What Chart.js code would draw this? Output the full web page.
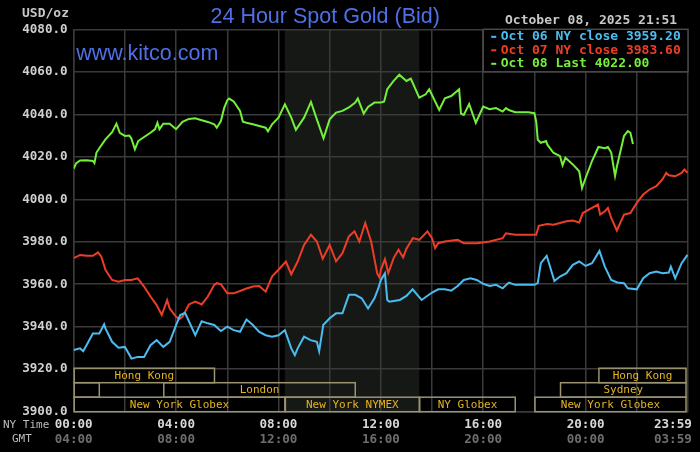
<!DOCTYPE html>
<html><head><meta charset="utf-8">
<script src="https://cdn.jsdelivr.net/npm/chart.js@4.4.0/dist/chart.umd.min.js"></script>
<style>html,body{margin:0;padding:0;background:#000;overflow:hidden}canvas{display:block}</style>
</head><body>
<canvas id="c" width="700" height="452"></canvas>
<script>
// ---------- data ----------
const titleText = '24 Hour Spot Gold (Bid)';
const unitText = 'USD/oz';
const dateText = 'October 08, 2025 21:51';
const siteText = 'www.kitco.com';
const yMin = 3900, yMax = 4080, yStep = 20;
const hourGrid = [0,2,4,6,8,10,12,14,16,18,20,22,24];
const labeledHours = [0,4,8,12,16,20,24];
const nyLabels = ['00:00','04:00','08:00','12:00','16:00','20:00','23:59'];
const gmtLabels = ['04:00','08:00','12:00','16:00','20:00','00:00','03:59'];
const rowTitles = ['NY Time','GMT'];
const nyShade = [8.25, 13.5];
const legendLabels = ['Oct 06 NY close 3959.20','Oct 07 NY close 3983.60','Oct 08 Last 4022.00'];

// sessions: [name, startHour, endHour, row]
const sessions = [
  ['Hong Kong',0,5.5,0], ['Hong Kong',20.5,24,0],
  ['',0,1,1], ['London',3.5,11,1], ['Sydney',19,24,1],
  ['New York Globex',0,8.25,2], ['New York NYMEX',8.25,13.5,2],
  ['NY Globex',13.5,17.25,2], ['New York Globex',18,24,2]
];

// [hour, price]
const oct06 = [[0,3929],[0.25,3929.8],[0.37,3928.5],[0.5,3931.3],[0.75,3936.8],[1.0,3936.8],[1.19,3941.1],[1.24,3939.2],[1.5,3932.9],[1.75,3930.1],[2.0,3930.5],[2.26,3925],[2.5,3925.8],[2.75,3925.8],[3.0,3931.3],[3.24,3933.7],[3.5,3930.5],[3.75,3932.9],[4.0,3940.8],[4.16,3945.5],[4.35,3946.5],[4.75,3936],[5.0,3942.6],[5.24,3941.6],[5.49,3940.8],[5.75,3938],[6.0,3940],[6.25,3938.4],[6.5,3937.6],[6.75,3943.4],[7.0,3940.8],[7.25,3937.6],[7.5,3936],[7.75,3935.3],[8.0,3936],[8.25,3938.4],[8.5,3929.8],[8.64,3926.6],[8.75,3929.8],[9.0,3935.3],[9.25,3933.7],[9.5,3932.9],[9.59,3928.5],[9.75,3940.8],[10.0,3944],[10.25,3946.3],[10.5,3946.3],[10.75,3955],[11.0,3955],[11.25,3953.4],[11.5,3948.6],[11.75,3953.4],[11.9,3958],[12.0,3962],[12.16,3965.1],[12.25,3952.6],[12.33,3951.8],[12.74,3952.6],[13.0,3954.5],[13.24,3957.6],[13.5,3953.9],[13.59,3952.6],[14.0,3956.1],[14.24,3957.6],[14.5,3957.6],[14.75,3957],[15.0,3959.2],[15.24,3962],[15.5,3962.8],[15.75,3962],[16.0,3960.2],[16.25,3959.2],[16.5,3959.7],[16.76,3958.1],[17.0,3960.8],[17.25,3959.7],[18.0,3959.7],[18.13,3960.5],[18.25,3969.9],[18.48,3973.4],[18.78,3961.5],[19.0,3963.6],[19.25,3965.2],[19.5,3969.1],[19.75,3970.7],[20.0,3968.6],[20.25,3969.9],[20.54,3975.7],[20.75,3968.3],[21.0,3962],[21.24,3960.8],[21.5,3960.5],[21.65,3958.1],[22.0,3957.6],[22.25,3962.8],[22.5,3965.2],[22.76,3966],[23.0,3965.2],[23.25,3965.5],[23.33,3968.3],[23.5,3962.8],[23.75,3969.9],[23.98,3973.8]];

const oct07 = [[0,3972.3],[0.25,3973.8],[0.5,3973.4],[0.75,3973.4],[0.95,3975],[1.08,3973],[1.24,3966.8],[1.5,3962],[1.75,3961.2],[2.0,3962],[2.25,3962],[2.5,3962.8],[2.75,3958.9],[3.0,3954.2],[3.24,3950.2],[3.44,3945.5],[3.65,3952.5],[3.75,3948.6],[4.0,3944.7],[4.13,3943.6],[4.25,3944.7],[4.5,3950.5],[4.75,3951.8],[5.0,3950.5],[5.24,3954.2],[5.49,3959.7],[5.59,3960.5],[5.75,3960],[6.0,3955.7],[6.25,3955.7],[6.5,3956.8],[6.75,3958],[7.0,3958.9],[7.25,3959.2],[7.5,3956.5],[7.75,3963.6],[8.0,3966.8],[8.29,3970.7],[8.5,3964.7],[8.75,3970.7],[9.0,3978.5],[9.27,3983.3],[9.5,3980.1],[9.73,3972],[10.0,3978.5],[10.25,3970.8],[10.5,3974.6],[10.75,3982.5],[10.97,3984.9],[11.16,3980.1],[11.39,3988.8],[11.62,3980.1],[11.86,3965],[11.95,3963.1],[12.0,3966.8],[12.16,3971.8],[12.29,3965.3],[12.5,3972.3],[12.69,3976.2],[12.87,3972.6],[13.0,3976.7],[13.25,3981.7],[13.5,3980.9],[13.82,3984.9],[14.0,3981.7],[14.12,3977],[14.24,3979.3],[14.5,3980.1],[15.0,3980.9],[15.24,3979.3],[15.75,3979.3],[16.25,3980.1],[16.76,3981.7],[16.89,3984],[17.25,3983.3],[18.0,3983.3],[18.07,3983.3],[18.17,3987.5],[18.5,3988.3],[18.74,3988],[19.0,3988.8],[19.25,3989.6],[19.5,3990],[19.75,3989.1],[19.89,3993.5],[20.25,3995.9],[20.48,3997.5],[20.57,3992.8],[20.75,3994.3],[20.87,3995.9],[21.0,3991.2],[21.22,3985.3],[21.5,3992.8],[21.75,3993.5],[22.0,3998.3],[22.25,4002.2],[22.5,4004.6],[22.76,4006.2],[23.0,4009.3],[23.15,4012.4],[23.25,4011.3],[23.5,4010.8],[23.75,4012.4],[23.86,4014],[23.98,4012.4]];

const oct08 = [[0,4014.5],[0.1,4017],[0.25,4018.3],[0.5,4018.4],[0.75,4018],[0.81,4017],[0.89,4022],[1.0,4024],[1.24,4028.2],[1.5,4031.6],[1.67,4035.6],[1.8,4031.3],[2.0,4029.8],[2.17,4030],[2.25,4028.7],[2.39,4023.5],[2.52,4027.4],[2.75,4029.3],[3.0,4031.3],[3.18,4033],[3.27,4036],[3.35,4033],[3.5,4035.6],[3.75,4035.6],[4.0,4033],[4.25,4036.4],[4.5,4037.8],[4.75,4038.1],[5.0,4037.2],[5.24,4036.4],[5.49,4035.3],[5.59,4033.7],[5.75,4036.8],[5.88,4043],[6.0,4046.6],[6.07,4047.4],[6.25,4046],[6.5,4041.6],[6.61,4036.5],[6.75,4036],[7.0,4035.3],[7.25,4034.5],[7.5,4033.7],[7.59,4032],[7.75,4035.3],[8.0,4038.4],[8.25,4044.7],[8.5,4038.4],[8.68,4032.7],[9.0,4038.4],[9.27,4045.8],[9.5,4037.6],[9.76,4028.7],[10.0,4037.6],[10.25,4040.8],[10.5,4041.6],[10.75,4043.2],[11.0,4045.5],[11.1,4047.4],[11.33,4040.3],[11.5,4043.5],[11.75,4045.5],[12.0,4045.5],[12.13,4046],[12.25,4051.8],[12.5,4055.7],[12.72,4058.6],[13.0,4055.7],[13.17,4056.8],[13.5,4047.8],[13.75,4049.4],[13.89,4051.8],[14.28,4042],[14.5,4047.5],[14.75,4048.6],[15.06,4051.8],[15.13,4040.3],[15.24,4039.7],[15.45,4044.8],[15.71,4036],[16.0,4043.6],[16.25,4042.4],[16.5,4042.9],[16.76,4041.3],[16.89,4042.9],[17.0,4042],[17.25,4041],[17.76,4041],[18.0,4040.5],[18.07,4036.5],[18.13,4028],[18.25,4026.6],[18.46,4027.4],[18.5,4025.8],[18.74,4021.9],[19.0,4020.3],[19.1,4016],[19.21,4019.5],[19.5,4016.4],[19.75,4013.2],[19.86,4005.3],[20.0,4010],[20.25,4018],[20.5,4024.6],[20.75,4024],[20.87,4024.6],[21.0,4022],[21.15,4011],[21.24,4016.4],[21.5,4029.8],[21.65,4032.1],[21.75,4031.3],[21.85,4026]];

const seriesData = [oct06, oct07, oct08];
const seriesColors = ['#4cbcf0', '#ec3e26', '#74f03a'];

// ---------- chart ----------
const MONO = '"DejaVu Sans Mono", monospace';
const SANS = '"Liberation Sans", Arial, sans-serif';

function lbl(arr, value, pad) {
  const i = labeledHours.indexOf(value);
  if (i < 0) return '';
  return arr[i] + (value === 24 ? pad : '');
}

const decor = {
  id: 'decor',
  beforeDraw(chart) {
    const {ctx, chartArea: a, scales: {x}} = chart;
    ctx.save();
    ctx.fillStyle = '#000';
    ctx.fillRect(0, 0, chart.width, chart.height);
    const x0 = x.getPixelForValue(nyShade[0]), x1 = x.getPixelForValue(nyShade[1]);
    ctx.fillStyle = '#151815';
    ctx.fillRect(x0, a.top, x1 - x0, a.bottom - a.top);
    ctx.restore();
  },
  afterDatasetsDraw(chart) {
    const {ctx, chartArea: a, scales: {x, y}} = chart;
    ctx.save();
    // sessions
    const rowTop0 = y.getPixelForValue(yMin + yStep) - 1;
    const rowH = (a.bottom - rowTop0) / 3;
    ctx.lineWidth = 1.5;
    ctx.strokeStyle = '#9a9470';
    ctx.fillStyle = '#e6b422';
    ctx.font = '11px ' + MONO;
    ctx.textAlign = 'center';
    ctx.textBaseline = 'middle';
    sessions.forEach(([name, s, e, r]) => {
      const x0 = x.getPixelForValue(s) + 0.5;
      const x1 = Math.min(x.getPixelForValue(e), a.right - 2);
      const y0 = rowTop0 + r * rowH;
      ctx.strokeRect(x0, y0, x1 - x0, rowH);
      if (name) ctx.fillText(name, (x0 + x1) / 2, y0 + rowH / 2 + 0.5);
    });
    // legend box
    const lx = x.getPixelForValue(16), ly = y.getPixelForValue(yMax);
    const lw = x.getPixelForValue(24) - lx, lh = y.getPixelForValue(yMax - yStep) - ly;
    ctx.fillStyle = '#000';
    ctx.fillRect(lx, ly, lw, lh);
    ctx.strokeStyle = '#4a4a4a';
    ctx.strokeRect(lx, ly, lw, lh);
    ctx.font = 'bold 13px ' + MONO;
    ctx.textAlign = 'left';
    legendLabels.forEach((t, i) => {
      const ry = ly + 7.5 + i * 13.5;
      ctx.fillStyle = seriesColors[i];
      ctx.fillRect(lx + 8, ry - 1, 5, 2);
      ctx.fillText(t, lx + 17.5, ry);
    });
    // site
    ctx.fillStyle = '#4f70e8';
    ctx.font = '21.5px ' + SANS;
    ctx.textBaseline = 'alphabetic';
    ctx.fillText(siteText, a.left + 2.5, a.top + 30.5);
    ctx.restore();
  },
  afterDraw(chart) {
    const {ctx, chartArea: a} = chart;
    ctx.save();
    ctx.textBaseline = 'alphabetic';
    ctx.textAlign = 'left';
    ctx.fillStyle = '#4f70e8';
    ctx.font = '21.5px ' + SANS;
    ctx.fillText(titleText, 210.5, 23.3);
    ctx.textBaseline = 'middle';
    ctx.fillStyle = '#c8c8c8';
    ctx.font = 'bold 13px ' + MONO;
    ctx.fillText(dateText, 505, 21);
    ctx.fillText(unitText, 22, 13.5);
    ctx.font = '11px ' + MONO;
    ctx.fillStyle = '#bdbdbd';
    ctx.fillText(rowTitles[0], 3, 425);
    ctx.fillText(rowTitles[1], 12, 439);
    ctx.restore();
  }
};

new Chart(document.getElementById('c'), {
  type: 'line',
  data: {
    datasets: seriesData.map((d, i) => ({
      label: legendLabels[i],
      data: d.map(([h, v]) => ({x: h, y: v})),
      borderColor: seriesColors[i],
      borderWidth: 2,
      pointRadius: 0,
      tension: 0,
      fill: false
    }))
  },
  options: {
    responsive: false,
    animation: false,
    devicePixelRatio: 1,
    layout: {padding: {left: 0, right: 12, top: 29.3, bottom: 0}},
    plugins: {legend: {display: false}, tooltip: {enabled: false}, title: {display: false}},
    scales: {
      x: {
        type: 'linear', position: 'bottom', min: 0, max: 24, weight: 0,
        afterBuildTicks(s) { s.ticks = hourGrid.map(v => ({value: v})); },
        afterFit(s) { s.height = 20; s.paddingLeft = 0; s.paddingRight = 0; },
        grid: {color: '#3a3a3a', lineWidth: 1.5, drawTicks: false},
        border: {display: true, color: '#3a3a3a', width: 1.5},
        ticks: {
          autoSkip: false, maxRotation: 0, padding: 5,
          color: '#d8d8d8', font: {family: MONO, size: 12.6, weight: 'bold'},
          callback: v => lbl(nyLabels, v, '    ')
        }
      },
      xg: {
        type: 'linear', position: 'bottom', min: 0, max: 24, weight: 1,
        afterBuildTicks(s) { s.ticks = hourGrid.map(v => ({value: v})); },
        afterFit(s) { s.height = 20.3; s.paddingLeft = 0; s.paddingRight = 0; },
        grid: {display: false, drawTicks: false},
        border: {display: false},
        ticks: {
          autoSkip: false, maxRotation: 0, padding: 0,
          color: '#6e6e6e', font: {family: MONO, size: 12.6, weight: 'bold'},
          callback: v => lbl(gmtLabels, v, '    ')
        }
      },
      y: {
        type: 'linear', position: 'left', min: yMin, max: yMax,
        afterFit(s) { s.width = 73.7; s.paddingTop = 0; s.paddingBottom = 0; },
        grid: {color: '#3a3a3a', lineWidth: 1.5, drawTicks: false},
        border: {display: true, color: '#3a3a3a', width: 1.5},
        ticks: {
          stepSize: yStep, padding: 6,
          color: '#cfcfcf', font: {family: MONO, size: 12.6, weight: 'bold'},
          callback: v => v.toFixed(1)
        }
      }
    }
  },
  plugins: [decor]
});
</script>
</body></html>
